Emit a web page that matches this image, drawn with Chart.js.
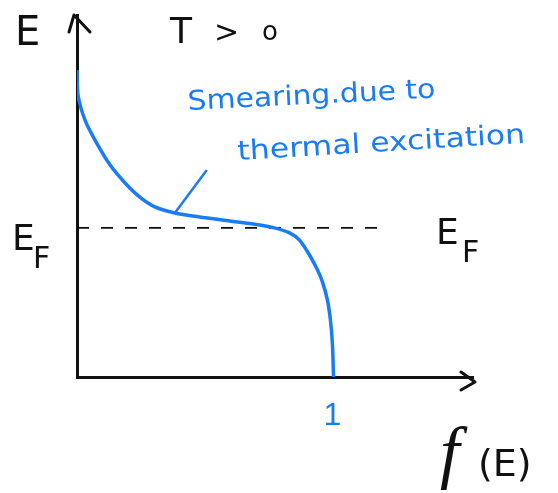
<!DOCTYPE html>
<html>
<head>
<meta charset="utf-8">
<script src="https://cdn.jsdelivr.net/npm/chart.js@4"></script>
<style>
  html, body { margin: 0; padding: 0; background: #fff; }
  #wrap { width: 558px; height: 493px; }
</style>
</head>
<body>
<div id="wrap"><canvas id="fermi"></canvas></div>
<script>
// Fermi-Dirac occupation at T > 0 (sketch), E on the vertical axis
const occupancy = [0, 0.004, 0.031, 0.070, 0.129, 0.188, 0.246, 0.305, 0.383, 0.480, 0.598, 0.715, 0.773, 0.832, 0.871, 0.910, 0.941, 0.961, 0.980, 0.992, 1.0, 1.004];
const energy    = [8.48, 7.79, 7.10, 6.55, 5.86, 5.36, 4.97, 4.70, 4.53, 4.42, 4.31, 4.20, 4.12, 3.98, 3.78, 3.37, 2.96, 2.62, 2.13, 1.57, 0.88, 0];
const fermiLevel = 4.12;
const fermiLineSpan = [0, 1.18];
const pointerF = [0.383, 0.508];
const pointerE = [4.53, 5.72];
const xTickValues = [1];

const BLUE = '#1a7cf5';
const INK = '#111';

const toPoints = (xs, ys) => xs.map((x, i) => ({ x: x, y: ys[i] }));

// arrows and hand labels
const sketchLabels = {
  id: 'sketchLabels',
  afterDraw(chart) {
    const ctx = chart.ctx;
    const xs = chart.scales.x, ys = chart.scales.y;
    const x0 = xs.left, y0 = ys.bottom;
    const top = ys.top, right = xs.right;
    ctx.save();
    ctx.strokeStyle = INK;
    ctx.lineWidth = 3;
    ctx.lineCap = 'round';
    ctx.lineJoin = 'round';
    // y arrow
    ctx.beginPath();
    ctx.moveTo(x0 - 8, top + 17);
    ctx.lineTo(x0 - 3, top);
    ctx.lineTo(x0 + 13, top + 17);
    ctx.stroke();
    // x arrow
    ctx.beginPath();
    ctx.moveTo(right - 12, y0 - 5);
    ctx.lineTo(right + 2, y0 + 5);
    ctx.lineTo(right - 12, y0 + 13);
    ctx.stroke();

    const ef = ys.getPixelForValue(fermiLevel);
    ctx.fillStyle = INK;
    ctx.textBaseline = 'alphabetic';
    ctx.font = '40px "DejaVu Sans"';
    ctx.fillText('E', 15, 45);
    ctx.font = '36px "DejaVu Sans"';
    ctx.fillText('T', 170, 43);
    ctx.font = '30px "DejaVu Sans"';
    ctx.fillText('>', 214, 42);
    ctx.font = '26px "DejaVu Sans"';
    ctx.fillText('o', 262, 40);

    // E_F on both sides
    ctx.font = '36px "DejaVu Sans"';
    ctx.fillText('E', 12, ef + 22);
    ctx.fillText('E', 436, ef + 16);
    ctx.font = '30px "DejaVu Sans"';
    ctx.fillText('F', 33, ef + 40);
    ctx.fillText('F', 462, ef + 34);

    // f(E)
    ctx.font = 'italic 70px "Liberation Serif"';
    ctx.fillText('f', 440, 475);
    ctx.font = '38px "DejaVu Sans"';
    ctx.fillText('(E)', 478, 476);

    // blue note
    ctx.fillStyle = BLUE;
    const note = (txt, x, y, w, ang) => {
      ctx.save();
      ctx.translate(x, y);
      ctx.rotate(ang);
      ctx.font = '27px "DejaVu Sans"';
      const m = ctx.measureText(txt).width;
      ctx.scale(w / m, 1);
      ctx.fillText(txt, 0, 0);
      ctx.restore();
    };
    note('Smearing.due to', 188, 110, 248, -0.05);
    note('thermal excitation', 238, 160, 288, -0.06);
    ctx.restore();
  }
};

new Chart(document.getElementById('fermi').getContext('2d'), {
  type: 'scatter',
  data: {
    datasets: [
      {
        label: 'f(E)',
        data: toPoints(occupancy, energy),
        showLine: true,
        borderColor: BLUE,
        borderWidth: 3.5,
        pointRadius: 0,
        tension: 0.25
      },
      {
        label: 'pointer',
        data: toPoints(pointerF, pointerE),
        showLine: true,
        borderColor: BLUE,
        borderWidth: 2.5,
        pointRadius: 0
      },
      {
        label: 'E_F',
        data: toPoints(fermiLineSpan, [fermiLevel, fermiLevel]),
        showLine: true,
        borderColor: INK,
        borderWidth: 1.8,
        borderDash: [12, 12],
        pointRadius: 0
      }
    ]
  },
  options: {
    responsive: true,
    maintainAspectRatio: false,
    animation: false,
    layout: { padding: { left: 0, top: 15, right: 85, bottom: 0 } },
    plugins: { legend: { display: false }, tooltip: { enabled: false } },
    scales: {
      x: {
        type: 'linear',
        min: 0,
        max: 1.55,
        afterFit: s => { s.height = 116; },
        afterBuildTicks: s => { s.ticks = xTickValues.map(v => ({ value: v })); },
        grid: { display: false, drawTicks: false },
        border: { display: true, color: INK, width: 3 },
        ticks: {
          color: BLUE,
          padding: 20,
          font: { family: 'Liberation Sans', size: 32 },
          callback: v => String(v)
        }
      },
      y: {
        type: 'linear',
        min: 0,
        max: 10,
        afterFit: s => { s.width = 77; },
        grid: { display: false, drawTicks: false },
        border: { display: true, color: INK, width: 3 },
        ticks: { display: false }
      }
    }
  },
  plugins: [sketchLabels]
});
</script>
</body>
</html>
